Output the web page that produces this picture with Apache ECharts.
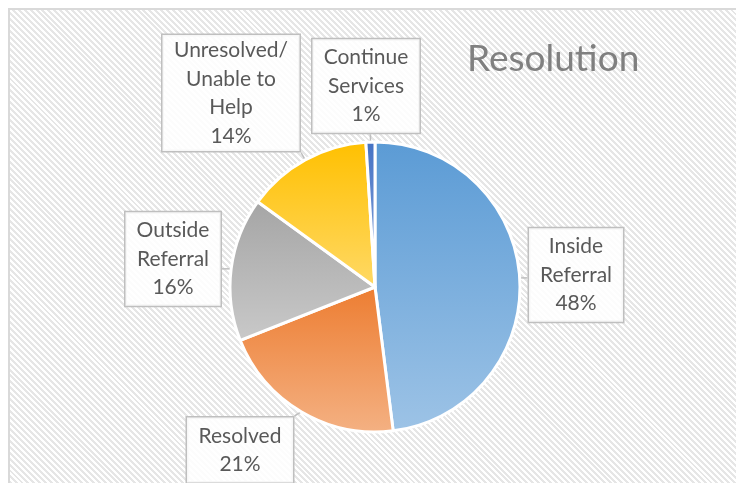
<!DOCTYPE html>
<html>
<head>
<meta charset="utf-8">
<script src="https://cdn.jsdelivr.net/npm/echarts@6/dist/echarts.min.js"></script>
<style>
html, body { margin: 0; padding: 0; background: #fff; overflow: hidden; }
.frame {
	position: absolute; left: 8px; top: 8px; width: 800px; height: 560px;
	border: 2px solid #d9d9d9;
	background: repeating-linear-gradient(45deg, #fff 0, #fff 2.1px, #e6e6e6 2.1px, #e6e6e6 4.2px);
}
#main { position: absolute; left: 0; top: 0; width: 736px; height: 483px; }
</style>
</head>
<body>
<div class="frame"></div>
<div id="main"></div>
<script>
var categories = ['Inside\nReferral', 'Resolved', 'Outside\nReferral', 'Unresolved/\nUnable to\nHelp', 'Continue\nServices'];
var values = [48, 21, 16, 14, 1];
var topColors = ['#5b9bd5', '#ed7d31', '#a5a5a5', '#ffc000', '#4472c4'];
var bottomColors = ['#9dc3e6', '#f4b183', '#c9c9c9', '#ffd966', '#8faadc'];

// callout boxes: centre, outer width and vertical padding, in px
var boxCenters = [[576, 275], [240, 450], [173, 259], [231, 93], [366, 86]];
var boxWidths = [94, 106, 95, 137, 107];
var boxPadY = [4, 4, 4, 1, 4];
var padX = 6;

var myChart = echarts.init(document.getElementById('main'));

var pieData = values.map(function (v, i) {
	return {
		name: categories[i],
		value: v,
		itemStyle: {
			color: new echarts.graphic.LinearGradient(0, 0, 0, 1, [
				{ offset: 0, color: topColors[i] },
				{ offset: 1, color: bottomColors[i] }
			])
		},
		label: { width: boxWidths[i] - padX * 2, padding: [boxPadY[i], padX] }
	};
});

myChart.setOption({
	backgroundColor: 'transparent',
	animation: false,
	title: {
		text: 'Resolution',
		left: 462,
		top: 36,
		textStyle: { color: '#808080', fontFamily: 'Lato', fontSize: 37, fontWeight: 'normal' }
	},
	series: [{
		type: 'pie',
		center: [375, 287],
		radius: 145,
		startAngle: 90,
		clockwise: true,
		avoidLabelOverlap: false,
		percentPrecision: 0,
		minShowLabelAngle: 0,
		itemStyle: { borderColor: '#fff', borderWidth: 3 },
		label: {
			show: true,
			position: 'outside',
			formatter: '{b}\n{d}%',
			color: '#595959',
			fontFamily: 'Lato',
			fontSize: 21,
			lineHeight: 28.5,
			align: 'center',
			backgroundColor: 'rgba(255,255,255,0.88)',
			borderColor: '#bfbfbf',
			borderWidth: 1.5,
			padding: [4, padX]
		},
		labelLine: { show: true, length: 10, length2: 10, lineStyle: { color: '#bfbfbf', width: 1.5 } },
		labelLayout: function (p) {
			var c = boxCenters[p.dataIndex];
			var w = p.labelRect.width, h = p.labelRect.height;
			var x0 = c[0] - w / 2, y0 = c[1] - h / 2;
			var res = { x: c[0], y: c[1], align: 'center', verticalAlign: 'middle' };
			if (p.labelLinePoints) {
				var s = p.labelLinePoints[0];
				var ex = Math.min(Math.max(s[0], x0), x0 + w);
				var ey = Math.min(Math.max(s[1], y0), y0 + h);
				res.labelLinePoints = [s, [(s[0] + ex) / 2, (s[1] + ey) / 2], [ex, ey]];
			}
			return res;
		},
		emphasis: { disabled: true },
		data: pieData
	}]
});
</script>
</body>
</html>
